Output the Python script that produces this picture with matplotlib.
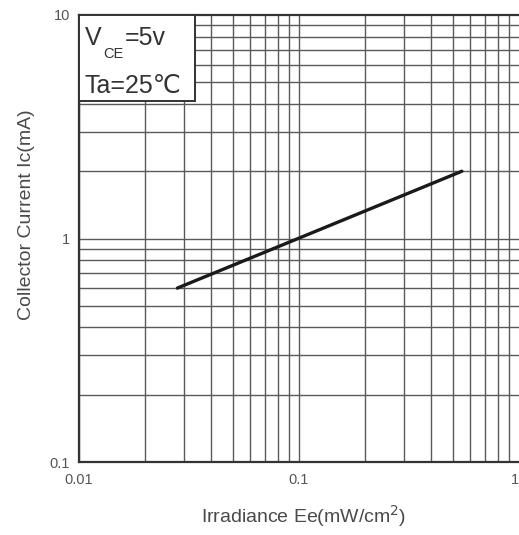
import numpy as np
import matplotlib.pyplot as plt
from matplotlib.patches import Rectangle

plt.rcParams['font.family'] = ['Liberation Sans', 'DejaVu Sans', 'Noto Sans CJK SC']

# data
irradiance = [0.028, 0.55]      # mW/cm2
collector_current = [0.60, 2.0]  # mA

x_ticks = [0.01, 0.1, 1]
x_tick_labels = ['0.01', '0.1', '1']
y_ticks = [0.1, 1, 10]
y_tick_labels = ['0.1', '1', '10']

fig = plt.figure(figsize=(5.19, 5.35), dpi=100)
# axes in pixels: left 79, right 519, top 15, bottom 462
ax = fig.add_axes([79 / 519, 1 - 462 / 535, 440 / 519, 447 / 535])

ax.set_xscale('log')
ax.set_yscale('log')
ax.set_xlim(0.01, 1)
ax.set_ylim(0.1, 10)

# dense grid on every minor decade step
for dec in [0.01, 0.1]:
    for m in range(1, 10):
        ax.axvline(dec * m, color='#5a5a5a', lw=1.0, zorder=1)
for dec in [0.1, 1]:
    for m in range(1, 10):
        ax.axhline(dec * m, color='#5a5a5a', lw=1.0, zorder=1)

ax.plot(irradiance, collector_current, color='#1a1a1a', lw=2.4,
        solid_capstyle='round', zorder=3)

ax.set_xticks(x_ticks)
ax.set_xticklabels(x_tick_labels)
ax.set_yticks(y_ticks)
ax.set_yticklabels(y_tick_labels)
ax.minorticks_off()
ax.tick_params(length=0, labelsize=10.5, colors='#555555')
ax.tick_params(axis='x', pad=8)
ax.tick_params(axis='y', pad=6.5)
# last x label sits at the image edge in the reference: keep it inside
ax.get_xticklabels()[-1].set_horizontalalignment('right')

for side in ['left', 'bottom', 'top', 'right']:
    ax.spines[side].set_color('#333333')
    ax.spines[side].set_linewidth(1.6)
ax.spines['right'].set_visible(False)

fig.text(304 / 519, 1 - 516 / 535, 'Irradiance Ee(mW/cm$^2$)', fontsize=14,
         color='#4a4a4a', ha='center', va='center')
fig.text(27 / 519, 1 - 215 / 535, 'Collector Current Ic(mA)', fontsize=14,
         color='#4a4a4a', ha='center', va='center', rotation=90)

# condition box in the upper-left corner
box = Rectangle((0, 1 - 86 / 447), 116 / 440, 86 / 447, transform=ax.transAxes,
                facecolor='white', edgecolor='#333333', lw=1.4, zorder=4)
ax.add_patch(box)
ax.text(0.0136, 0.933, 'V', transform=ax.transAxes, fontsize=18,
        color='#333333', va='baseline', zorder=5)
ax.text(0.0545, 0.904, 'CE', transform=ax.transAxes, fontsize=10.5,
        color='#333333', va='baseline', zorder=5)
ax.text(0.1045, 0.933, '=5v', transform=ax.transAxes, fontsize=18,
        color='#333333', va='baseline', zorder=5)
ax.text(0.0136, 0.8255, 'Ta=25\u2103', transform=ax.transAxes, fontsize=18,
        color='#333333', va='baseline', zorder=5)

plt.savefig('out.png', dpi=100)
